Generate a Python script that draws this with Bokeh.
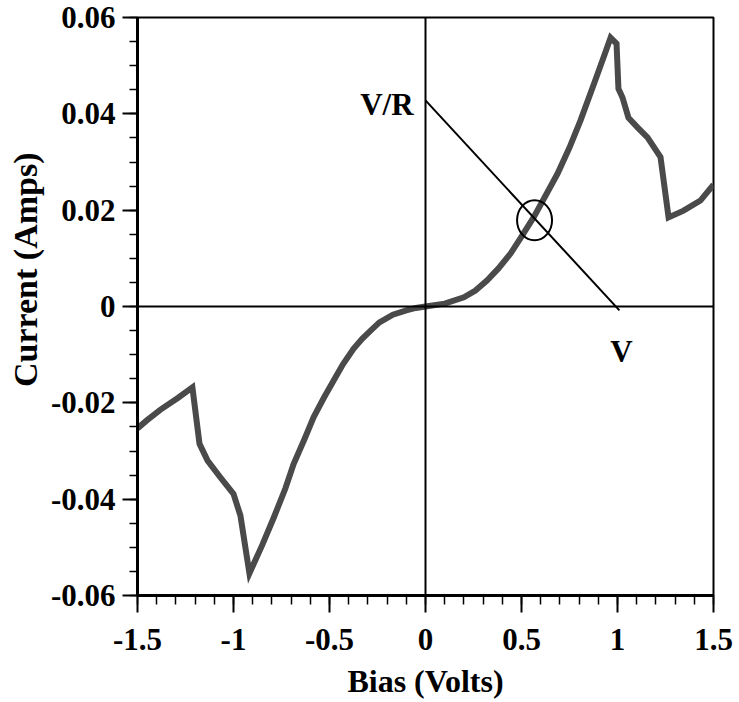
from bokeh.plotting import figure
from bokeh.models import FixedTicker, Span, Title
from bokeh.core.properties import value
from bokeh.embed import file_html
from bokeh.resources import INLINE

# ---- data ----
bias = [-1.50, -1.45, -1.38, -1.29, -1.214, -1.177, -1.135, -1.068, -1.00, -0.964,
        -0.917, -0.85, -0.79, -0.73, -0.687, -0.63, -0.583, -0.53, -0.479, -0.43,
        -0.375, -0.33, -0.286, -0.24, -0.17, -0.10, -0.05, 0.0,
        0.10, 0.20, 0.26, 0.32, 0.38, 0.443, 0.50, 0.563, 0.625, 0.688,
        0.75, 0.807, 0.88, 0.93, 0.964, 0.995, 1.005, 1.026, 1.057, 1.104,
        1.156, 1.224, 1.266, 1.344, 1.432, 1.50]
current = [-0.0253, -0.0236, -0.0214, -0.0190, -0.0168, -0.0285, -0.0320, -0.0355, -0.0389, -0.0434,
           -0.0554, -0.0495, -0.0438, -0.0378, -0.0327, -0.0275, -0.0230, -0.0190, -0.0154, -0.0120,
           -0.0088, -0.0067, -0.0050, -0.0033, -0.0017, -0.0008, -0.0003, 0.0,
           0.0006, 0.0019, 0.0033, 0.0054, 0.0079, 0.0110, 0.0145, 0.0185, 0.0230, 0.0276,
           0.0330, 0.0386, 0.0465, 0.0520, 0.0558, 0.0546, 0.0452, 0.0434, 0.0392, 0.0372,
           0.0351, 0.0310, 0.0185, 0.0199, 0.0220, 0.0253]

load_v = [0.0, 1.01]
load_i = [0.0428, -0.0008]

op_point_v = [0.568]
op_point_i = [0.0179]

label_text = ["V/R", "V"]
label_x = [-0.062, 1.021]
label_y = [0.0420, -0.0093]

x_ticks = [-1.5, -1.0, -0.5, 0.0, 0.5, 1.0, 1.5]
x_tick_labels = ["-1.5", "-1", "-0.5", "0", "0.5", "1", "1.5"]
x_minor = [round(-1.5 + 0.1 * i, 2) for i in range(31)]
y_ticks = [-0.06, -0.04, -0.02, 0.0, 0.02, 0.04, 0.06]
y_tick_labels = ["-0.06", "-0.04", "-0.02", "0", "0.02", "0.04", "0.06"]
y_minor = [round(-0.06 + 0.005 * i, 4) for i in range(25)]

FONT = "Liberation Serif"

p = figure(width=739, height=702, output_backend="svg", toolbar_location=None,
           x_range=(-1.5, 1.5), y_range=(-0.06, 0.06),
           min_border_left=137, min_border_right=26, min_border_top=17, min_border_bottom=107)

p.grid.visible = False
p.background_fill_color = "white"
p.border_fill_color = "white"
p.outline_line_color = "black"
p.outline_line_width = 2

# zero lines
p.add_layout(Span(location=0, dimension="width", line_color="black", line_width=2))
p.add_layout(Span(location=0, dimension="height", line_color="black", line_width=2))

# curve
p.line(bias, current, line_color="#4a4a4a", line_width=6, line_join="miter")

# load line
p.line(load_v, load_i, line_color="black", line_width=2)

# operating point circle
p.ellipse(x=op_point_v, y=op_point_i, width=35, height=40,
          width_units="screen", height_units="screen",
          fill_alpha=0, line_color="black", line_width=2)

p.text(x=label_x[:1], y=label_y[:1], text=label_text[:1], text_align="right",
       text_baseline="middle", text_font=value(FONT), text_font_style="bold",
       text_font_size="31px", text_color="black")
p.text(x=label_x[1:], y=label_y[1:], text=label_text[1:], text_align="center",
       text_baseline="middle", text_font=value(FONT), text_font_style="bold",
       text_font_size="31px", text_color="black")

# axes
for ax in (p.xaxis[0], p.yaxis[0]):
    ax.axis_line_width = 3
    ax.axis_line_color = "black"
    ax.major_tick_in = 0
    ax.minor_tick_in = 0
    ax.major_tick_line_width = 2
    ax.minor_tick_line_width = 1.5
    ax.major_tick_line_color = "black"
    ax.minor_tick_line_color = "black"
    ax.major_label_text_font = FONT
    ax.major_label_text_font_style = "bold"
    ax.major_label_text_font_size = "31px"
    ax.major_label_text_color = "black"
    ax.axis_label_text_font = FONT
    ax.axis_label_text_font_style = "bold"
    ax.axis_label_text_font_size = "32px"
    ax.axis_label_text_color = "black"

p.xaxis.ticker = FixedTicker(ticks=x_ticks, minor_ticks=x_minor)
p.xaxis.major_label_overrides = {t: l for t, l in zip(x_ticks, x_tick_labels)}
p.xaxis.major_tick_out = 17
p.xaxis.minor_tick_out = 9
p.xaxis.major_label_standoff = 16
p.xaxis.axis_label = "Bias (Volts)"
p.xaxis.axis_label_standoff = 10

p.yaxis.ticker = FixedTicker(ticks=y_ticks, minor_ticks=y_minor)
p.yaxis.major_label_overrides = {t: l for t, l in zip(y_ticks, y_tick_labels)}
p.yaxis.major_tick_out = 15
p.yaxis.minor_tick_out = 8
p.yaxis.major_label_standoff = 7
p.yaxis.major_label_orientation = "horizontal"

ytitle = Title(text="Current (Amps)", align="right", offset=135, standoff=8,
               text_font=FONT, text_font_style="bold", text_font_size="34px",
               text_color="black")
p.add_layout(ytitle, "left")

open("out.html", "w").write(file_html(p, INLINE))
